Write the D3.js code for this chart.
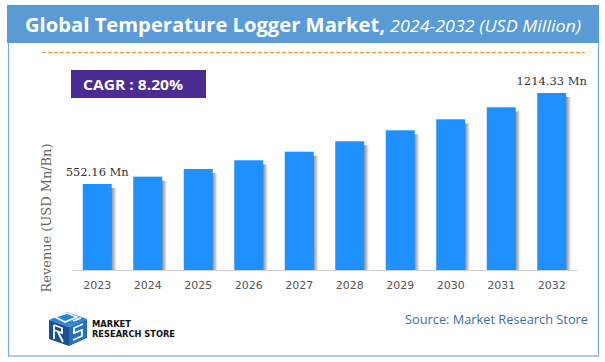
<!DOCTYPE html>
<html><head><meta charset="utf-8">
<script src="https://cdn.jsdelivr.net/npm/d3@7"></script>
<style>html,body{margin:0;padding:0;background:#fff;}svg{display:block;}</style>
</head><body>
<svg id="chart" width="605" height="362"></svg>
<script>
const categories = ["2023","2024","2025","2026","2027","2028","2029","2030","2031","2032"];
const values = [552.16, 605.3, 661.3, 724.6, 787.2, 862.9, 942.9, 1023.0, 1110.0, 1214.33];
const labelled = {"2023":"552.16 Mn","2032":"1214.33 Mn"};
const titleMain = "Global Temperature Logger Market,";
const titleSub = "2024-2032 (USD Million)";
const cagrText = "CAGR : 8.20%";
const yTitle = "Revenue (USD Mn/Bn)";
const sourceText = "Source: Market Research Store";

const svg = d3.select("#chart");
const defs = svg.append("defs");
const g1 = defs.append("linearGradient").attr("id","shadow").attr("x1","0").attr("x2","1").attr("y1","0").attr("y2","0");
g1.append("stop").attr("offset","0").attr("stop-color","#6e6e6e").attr("stop-opacity",0.9);
g1.append("stop").attr("offset","0.5").attr("stop-color","#a8a8a8").attr("stop-opacity",0.7);
g1.append("stop").attr("offset","1").attr("stop-color","#ffffff").attr("stop-opacity",0);

// frame
svg.append("rect").attr("x",8.5).attr("y",5.5).attr("width",590).attr("height",350.5)
  .attr("fill","#fff").attr("stroke","#7aaad8").attr("stroke-width",1.2);
svg.append("rect").attr("x",7).attr("y",5).attr("width",592).attr("height",38).attr("fill","#5b9bd5");

const t = svg.append("text").attr("y",32).attr("fill","#fff").attr("font-family","'Open Sans', sans-serif");
t.append("tspan").attr("x",25).attr("font-size",20).attr("font-weight","bold")
  .attr("textLength",360).attr("lengthAdjust","spacingAndGlyphs").text(titleMain);
t.append("tspan").attr("x",390).attr("font-size",17).attr("font-style","italic")
  .attr("textLength",191).attr("lengthAdjust","spacingAndGlyphs").text(titleSub);

svg.append("line").attr("x1",42).attr("x2",585).attr("y1",52.5).attr("y2",52.5)
  .attr("stroke","#f08a3c").attr("stroke-width",1).attr("stroke-dasharray","4,2");

// CAGR box
svg.append("rect").attr("x",71).attr("y",70).attr("width",135).attr("height",28).attr("fill","#4a2c92");
svg.append("text").attr("x",133).attr("y",89.5).attr("text-anchor","middle").attr("fill","#fff")
  .attr("font-family","'Open Sans', sans-serif").attr("font-weight","bold").attr("font-size",14)
  .attr("textLength",100).attr("lengthAdjust","spacingAndGlyphs").text(cagrText);

// scales
const x = d3.scaleBand().domain(categories).range([72,577]).paddingInner(0.426).paddingOuter(0.213);
const y = d3.scaleLinear().domain([-74, 1214.33]).range([270, 93]);
const data = categories.map((c,i)=>({c, v:values[i]}));

// shadows
svg.append("g").selectAll("rect").data(data).join("rect")
  .attr("x", d=>x(d.c)+x.bandwidth()-1).attr("y", d=>y(d.v)+4)
  .attr("width",7).attr("height", d=>270-y(d.v)-4).attr("fill","url(#shadow)");
// bars
svg.append("g").selectAll("rect").data(data).join("rect")
  .attr("x", d=>x(d.c)).attr("y", d=>y(d.v))
  .attr("width", x.bandwidth()).attr("height", d=>270-y(d.v)).attr("fill","#1e90ff");

// axis
const ax = svg.append("g").attr("transform","translate(0,270)").call(d3.axisBottom(x).tickSize(0).tickPadding(11));
ax.select(".domain").attr("stroke","#d0d0d0").attr("stroke-width",1.2);
ax.selectAll("text").attr("fill","#555").attr("font-family","'DejaVu Sans', Verdana, sans-serif").attr("font-size",11);

// labels
svg.append("g").selectAll("text").data(data.filter(d=>labelled[d.c])).join("text")
  .attr("x", d=>x(d.c)+x.bandwidth()/2).attr("y", d=>y(d.v)-8)
  .attr("text-anchor","middle").attr("fill","#333")
  .attr("font-family","'DejaVu Serif', serif").attr("font-size",11.5)
  .text(d=>labelled[d.c]);

// y title
svg.append("text").attr("transform","translate(51,218) rotate(-90)").attr("text-anchor","middle")
  .attr("fill","#666").attr("font-family","'DejaVu Serif', serif").attr("font-size",12)
  .attr("textLength",149).attr("lengthAdjust","spacingAndGlyphs").text(yTitle);

// source
svg.append("text").attr("x",405).attr("y",324).attr("fill","#3a6ea8")
  .attr("font-family","'Open Sans', sans-serif").attr("font-size",12.5)
  .attr("textLength",183).attr("lengthAdjust","spacingAndGlyphs").text(sourceText);

// logo
const lg = svg.append("g").attr("transform","translate(47,311)");
lg.append("path").attr("d","M2,9 L20,1 L40,8 L22,16 Z").attr("fill","#2a86d9");
lg.append("path").attr("d","M2,9 L22,16 L22,35 L2,28 Z").attr("fill","#1b4f8f");
lg.append("path").attr("d","M22,16 L40,8 L40,27 L22,35 Z").attr("fill","#2470bd");
lg.append("path").attr("d","M8,6 L20,2 L30,6 L18,11 Z M26,10 L34,7").attr("fill","none").attr("stroke","#fff").attr("stroke-width",1.6);
lg.append("path").attr("d","M7,14 L7,28 M7,14 L15,17 L15,22 L7,19 M11,21 L16,31").attr("fill","none").attr("stroke","#fff").attr("stroke-width",1.8);
lg.append("path").attr("d","M36,13 L27,17 L27,22 L35,19 L35,25 L26,29").attr("fill","none").attr("stroke","#fff").attr("stroke-width",1.8);
svg.append("text").attr("x",92).attr("y",327).attr("fill","#111").attr("font-family","'DejaVu Sans', sans-serif")
  .attr("font-weight","bold").attr("font-size",8.2).attr("textLength",39).attr("lengthAdjust","spacingAndGlyphs").text("MARKET");
svg.append("text").attr("x",92).attr("y",336.5).attr("fill","#111").attr("font-family","'DejaVu Sans', sans-serif")
  .attr("font-weight","bold").attr("font-size",8.2).attr("textLength",83).attr("lengthAdjust","spacingAndGlyphs").text("RESEARCH STORE");
</script>
</body></html>
